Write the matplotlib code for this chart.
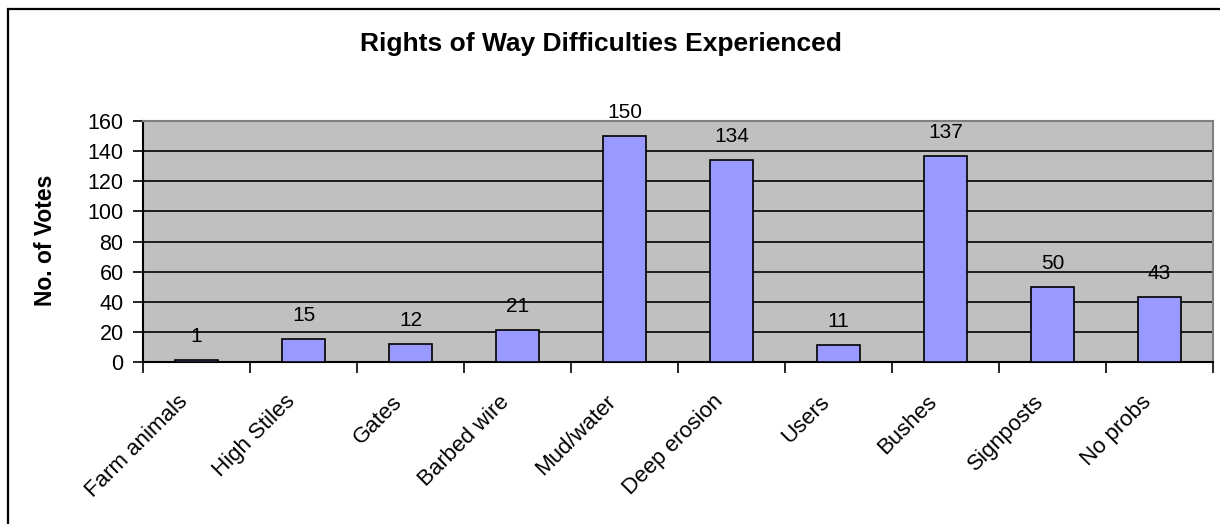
import matplotlib.pyplot as plt
import matplotlib.transforms as mtransforms
from matplotlib.patches import Rectangle

plt.rcParams['font.family'] = ['Liberation Sans', 'DejaVu Sans']

# Chart data
categories = ['Farm animals', 'High Stiles', 'Gates', 'Barbed wire', 'Mud/water',
              'Deep erosion', 'Users', 'Bushes', 'Signposts', 'No probs']
votes = [1, 15, 12, 21, 150, 134, 11, 137, 50, 43]
y_ticks = [0, 20, 40, 60, 80, 100, 120, 140, 160]

W, H = 1220, 524
fig = plt.figure(figsize=(W / 100, H / 100), dpi=100)

# outer chart frame (cut off at right and bottom like the original)
fig.patches.append(Rectangle((8 / W, -0.05), 1.2, 1 - 9 / H + 0.05, transform=fig.transFigure,
                             fill=False, edgecolor='black', linewidth=1.6, zorder=0))

ax = fig.add_axes([143 / W, 1 - 362 / H, (1213 - 143) / W, (362 - 121) / H])
ax.set_facecolor('#c0c0c0')

x = range(len(categories))
ax.bar(x, votes, width=0.4, color='#9999ff', edgecolor='black', linewidth=1.2, zorder=3)

for xi, v in zip(x, votes):
    ax.annotate(str(v), (xi, v), xytext=(0, 17), textcoords='offset points',
                ha='center', va='center', fontsize=15)

ax.set_xlim(-0.5, len(categories) - 0.5)
ax.set_ylim(0, 160)
ax.set_yticks(y_ticks)
ax.set_yticklabels([str(t) for t in y_ticks], fontsize=15.5)
ax.yaxis.grid(True, color='black', linewidth=1.2, zorder=1)
ax.set_axisbelow(True)

# category boundaries get the ticks, labels sit at the centres
ax.set_xticks([i - 0.5 for i in range(len(categories) + 1)])
ax.set_xticklabels([])
ax.set_xticks(list(x), minor=True)
ax.set_xticklabels(categories, minor=True, rotation=45, ha='right',
                   rotation_mode='anchor', fontsize=16)
ax.tick_params(axis='x', which='minor', length=0, pad=21)
ax.tick_params(axis='x', which='major', length=8, width=1.2, direction='out')
ax.tick_params(axis='y', length=7, width=1.2, direction='out', pad=7)
shift = mtransforms.ScaledTranslation(-19 / 100, 0, fig.dpi_scale_trans)
for lbl in ax.get_xticklabels(minor=True):
    lbl.set_transform(lbl.get_transform() + shift)

for side in ['top', 'right']:
    ax.spines[side].set_color('#808080')
    ax.spines[side].set_linewidth(1.5)
for side in ['left', 'bottom']:
    ax.spines[side].set_color('black')
    ax.spines[side].set_linewidth(1.5)

fig.text(46 / W, 1 - 240 / H, 'No. of Votes', rotation=90, ha='center', va='center',
         fontsize=16.5, fontweight='bold')
fig.text(601 / W, 1 - 44 / H, 'Rights of Way Difficulties Experienced',
         ha='center', va='center', fontsize=19, fontweight='bold')

fig.savefig('out.png', dpi=100)
